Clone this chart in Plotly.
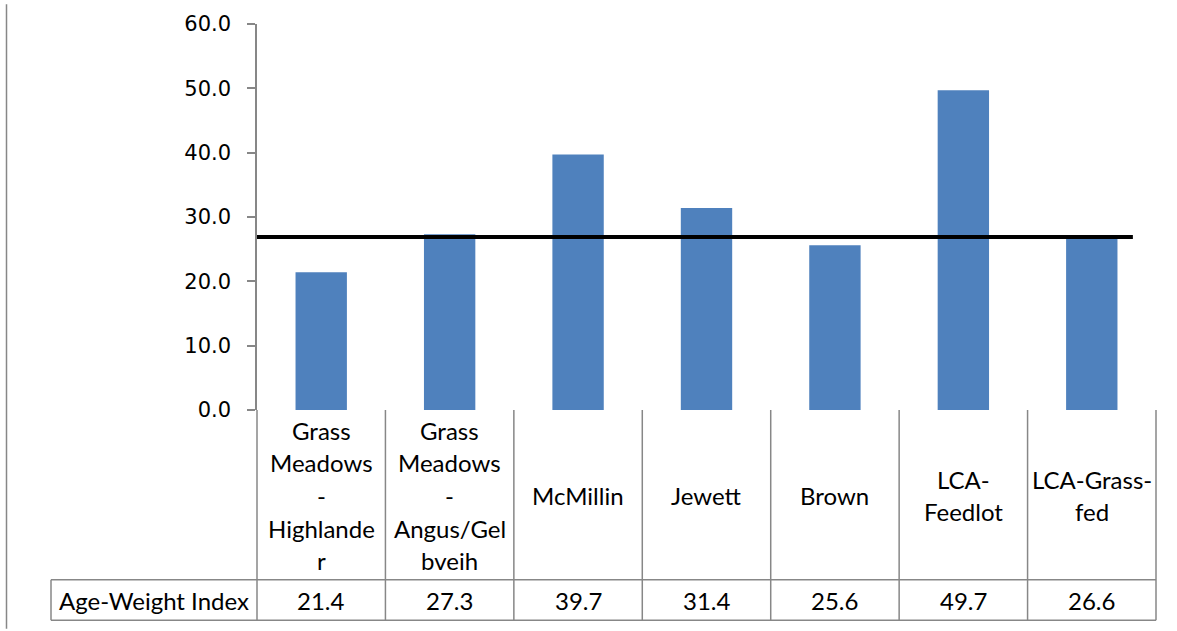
import plotly.graph_objects as go

# Chart data
categories = [
    "Grass Meadows - Highlander",
    "Grass Meadows - Angus/Gelbveih",
    "McMillin",
    "Jewett",
    "Brown",
    "LCA-Feedlot",
    "LCA-Grass-fed",
]
cell_labels = [
    ["Grass", "Meadows", "-", "Highlande", "r"],
    ["Grass", "Meadows", "-", "Angus/Gel", "bveih"],
    ["McMillin"],
    ["Jewett"],
    ["Brown"],
    ["LCA-", "Feedlot"],
    ["LCA-Grass-", "fed"],
]
series_name = "Age-Weight Index"
age_weight_index = [21.4, 27.3, 39.7, 31.4, 25.6, 49.7, 26.6]
reference_level = 26.9
y_ticks = [0, 10, 20, 30, 40, 50, 60]

W, H = 1177, 631
ML, MR, MT, MB = 257, 21, 20, 221
PW, PH = W - ML - MR, H - MT - MB

def px_x(px):
    return (px - ML) / PW

def px_y(py):
    return (H - MB - py) / PH

BAR = "#4F81BD"
GRID = "#878787"
TEXT_FONT = dict(family="Lato, 'Open Sans', sans-serif", size=24, color="#000000")
LINE_STEP = 33  # px between wrapped lines in the label cells

fig = go.Figure(
    go.Bar(
        x=categories,
        y=age_weight_index,
        name=series_name,
        marker=dict(color=BAR, line=dict(width=0)),
    )
)

shapes = []
# reference level line across the bars
shapes.append(dict(type="line", xref="x", yref="y", x0=-0.5, x1=6.32,
                   y0=reference_level, y1=reference_level,
                   line=dict(color="#000000", width=4)))

# data table grid under the axis
n = len(categories)
row1_bottom = px_y(581.5)
row2_bottom = px_y(622.5)
left_cell = px_x(51)
for i in range(n + 1):
    xp = i / n
    shapes.append(dict(type="line", xref="paper", yref="paper", x0=xp, x1=xp,
                       y0=0, y1=row2_bottom, line=dict(color=GRID, width=1.5)))
shapes.append(dict(type="line", xref="paper", yref="paper", x0=left_cell, x1=1,
                   y0=row1_bottom, y1=row1_bottom, line=dict(color=GRID, width=1.5)))
shapes.append(dict(type="line", xref="paper", yref="paper", x0=left_cell, x1=1,
                   y0=row2_bottom, y1=row2_bottom, line=dict(color=GRID, width=1.5)))
shapes.append(dict(type="line", xref="paper", yref="paper", x0=left_cell, x1=left_cell,
                   y0=row1_bottom, y1=row2_bottom, line=dict(color=GRID, width=1.5)))
# chart area left border
shapes.append(dict(type="line", xref="paper", yref="paper", x0=px_x(6.5), x1=px_x(6.5),
                   y0=px_y(0), y1=px_y(H), line=dict(color=GRID, width=1.5)))

annotations = []
cell_mid = 496.5
for cat, lines, val in zip(categories, cell_labels, age_weight_index):
    first = cell_mid - LINE_STEP * (len(lines) - 1) / 2
    for k, line in enumerate(lines):
        annotations.append(dict(x=cat, xref="x", y=px_y(first + k * LINE_STEP), yref="paper",
                                text=line, showarrow=False, align="center",
                                yanchor="middle", xanchor="center", font=TEXT_FONT))
    annotations.append(dict(x=cat, xref="x", y=px_y(602), yref="paper", text=f"{val:.1f}",
                            showarrow=False, align="center", yanchor="middle",
                            xanchor="center", font=TEXT_FONT))
annotations.append(dict(x=px_x(154), xref="paper", y=px_y(602), yref="paper",
                        text=series_name, showarrow=False, xanchor="center",
                        yanchor="middle", font=TEXT_FONT))

fig.update_layout(
    width=W, height=H,
    margin=dict(l=ML, r=MR, t=MT, b=MB),
    paper_bgcolor="#ffffff",
    plot_bgcolor="#ffffff",
    showlegend=False,
    bargap=0.6,
    shapes=shapes,
    annotations=annotations,
    xaxis=dict(
        type="category",
        range=[-0.5, n - 0.5],
        showticklabels=False,
        showline=False,
        showgrid=False,
        zeroline=False,
        ticks="",
        fixedrange=True,
    ),
    yaxis=dict(
        range=[0, 60],
        tickvals=y_ticks,
        tickformat=".1f",
        ticks="outside",
        ticklen=8,
        tickwidth=1.5,
        tickcolor=GRID,
        showline=True,
        linecolor=GRID,
        linewidth=1.5,
        showgrid=False,
        zeroline=False,
        ticklabelstandoff=12,
        tickfont=dict(family="DejaVu Sans", size=21, color="#000000"),
        fixedrange=True,
    ),
)

fig.write_html("out.html")
